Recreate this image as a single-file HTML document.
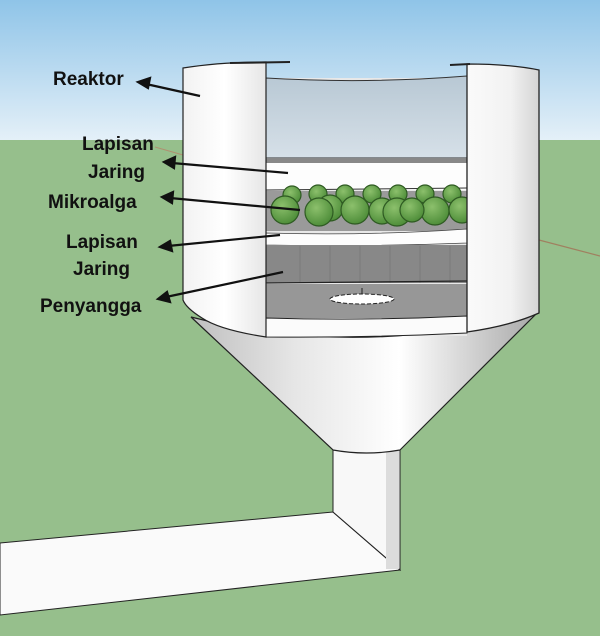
<!DOCTYPE html>
<html><head><meta charset="utf-8"><style>
html,body{margin:0;padding:0;width:600px;height:636px;overflow:hidden}
svg{display:block}
text{font-family:"Liberation Sans",sans-serif;font-weight:bold;font-size:19px;fill:#111}
</style></head><body>
<svg width="600" height="636" viewBox="0 0 600 636" xmlns="http://www.w3.org/2000/svg">
<defs>
<linearGradient id="sky" x1="0" y1="0" x2="0" y2="1"><stop offset="0" stop-color="#8fc4e8"/><stop offset="1" stop-color="#e4f0f8"/></linearGradient>
<linearGradient id="wallL" x1="0" y1="0" x2="1" y2="0"><stop offset="0" stop-color="#f2f2f2"/><stop offset="0.5" stop-color="#ffffff"/><stop offset="1" stop-color="#e6e6e6"/></linearGradient>
<linearGradient id="wallR" x1="0" y1="0" x2="1" y2="0"><stop offset="0" stop-color="#fafafa"/><stop offset="0.6" stop-color="#f2f2f2"/><stop offset="1" stop-color="#d4d4d4"/></linearGradient>
<linearGradient id="cone" x1="0" y1="0" x2="1" y2="0"><stop offset="0" stop-color="#bfbfbf"/><stop offset="0.3" stop-color="#e6e6e6"/><stop offset="0.6" stop-color="#ffffff"/><stop offset="1" stop-color="#a8a8a8"/></linearGradient>
<linearGradient id="glass" x1="0" y1="0" x2="0" y2="1"><stop offset="0" stop-color="#b8c8d4"/><stop offset="1" stop-color="#d6e0e8"/></linearGradient>
<radialGradient id="ball" cx="0.4" cy="0.35" r="0.7"><stop offset="0" stop-color="#8cc06c"/><stop offset="1" stop-color="#4a8a36"/></radialGradient>
</defs>
<rect width="600" height="140" fill="url(#sky)"/>
<rect y="140" width="600" height="496" fill="#96bf8c"/>
<line x1="155" y1="147" x2="183" y2="155" stroke="#b09070" stroke-width="1"/>
<line x1="539" y1="240" x2="600" y2="256" stroke="#a08060" stroke-width="1.2"/>
<!-- horizontal pipe -->
<polygon points="0,543 333,512 400,570 0,615" fill="#fafafa" stroke="#222" stroke-width="1"/>
<line x1="333" y1="512" x2="400" y2="570" stroke="#444" stroke-width="1"/>
<!-- vertical pipe -->
<polygon points="333,450 400,450 400,570 333,512" fill="#f8f8f8" stroke="#222" stroke-width="1"/>
<rect x="386" y="451" width="13" height="118" fill="#dcdcdc"/>
<!-- cone -->
<path d="M191,317 Q360,360 538,312 L400,450 Q366,456 333,450 Z" fill="url(#cone)" stroke="#222" stroke-width="1.2"/>
<!-- interior -->
<rect x="266" y="78" width="201" height="258" fill="#e8e8e8"/>
<path d="M266,78 Q366,84 467,76 L467,158 L266,158 Z" fill="url(#glass)" stroke="#333" stroke-width="1"/>
<rect x="266" y="158" width="201" height="5" fill="#888"/>
<rect x="266" y="163" width="201" height="27" fill="#fdfdfd"/>
<line x1="266" y1="190" x2="467" y2="188" stroke="#333"/>
<rect x="266" y="191" width="201" height="40" fill="#9a9a9a"/>
<g fill="url(#ball)" stroke="#2e5a22" stroke-width="1.2">
<circle cx="292" cy="195" r="9"/><circle cx="318" cy="194" r="9"/><circle cx="345" cy="194" r="9"/><circle cx="372" cy="194" r="9"/><circle cx="398" cy="194" r="9"/><circle cx="425" cy="194" r="9"/><circle cx="452" cy="194" r="9"/>
<circle cx="285" cy="210" r="14"/><circle cx="330" cy="208" r="13"/><circle cx="319" cy="212" r="14"/><circle cx="355" cy="210" r="14"/><circle cx="382" cy="211" r="13"/><circle cx="397" cy="212" r="14"/><circle cx="435" cy="211" r="14"/><circle cx="462" cy="210" r="13"/><circle cx="412" cy="210" r="12"/>
</g>
<path d="M266,233 Q366,236 467,229 L467,243 Q366,247 266,245 Z" fill="#fdfdfd" stroke="#444" stroke-width="0.8"/>
<rect x="266" y="245" width="201" height="38" fill="#888"/>
<g stroke="#7a7a7a" stroke-width="1"><line x1="300" y1="246" x2="300" y2="283"/><line x1="330" y1="246" x2="330" y2="283"/><line x1="360" y1="246" x2="360" y2="283"/><line x1="390" y1="246" x2="390" y2="283"/><line x1="420" y1="246" x2="420" y2="283"/><line x1="450" y1="246" x2="450" y2="283"/></g>
<line x1="266" y1="283" x2="467" y2="281" stroke="#222" stroke-width="1.2"/>
<rect x="266" y="284" width="201" height="34" fill="#979797"/>
<line x1="362" y1="288" x2="362" y2="296" stroke="#222"/>
<ellipse cx="362" cy="299" rx="32" ry="5" fill="#fff" stroke="#222" stroke-dasharray="4 2"/>
<path d="M266,318 Q366,321 467,316 L467,333 Q366,338 266,337 Z" fill="#fbfbfb" stroke="#222" stroke-width="1"/>
<!-- left wall -->
<path d="M183,68 Q220,62 266,62 L266,337 Q220,330 202,318 Q186,308 183,300 Z" fill="url(#wallL)" stroke="#222" stroke-width="1.2"/>
<path d="M230,63 L290,62" stroke="#222" stroke-width="2"/>
<!-- right wall -->
<path d="M467,64 Q510,64 539,70 L539,313 Q510,326 467,332 Z" fill="url(#wallR)" stroke="#222" stroke-width="1.3"/>
<path d="M450,65 L470,64" stroke="#222" stroke-width="2"/>
<!-- labels -->
<text x="53" y="85">Reaktor</text>
<text x="82" y="150">Lapisan</text>
<text x="88" y="178">Jaring</text>
<text x="48" y="208">Mikroalga</text>
<text x="66" y="248">Lapisan</text>
<text x="73" y="275">Jaring</text>
<text x="40" y="312">Penyangga</text>
<g stroke="#111" stroke-width="2.2" fill="#111">
<line x1="146" y1="84" x2="200" y2="96"/><polygon points="138,82 150,78 148,88"/>
<line x1="172" y1="163" x2="288" y2="173"/><polygon points="164,162 175,157 174,168"/>
<line x1="170" y1="198" x2="300" y2="210"/><polygon points="162,197 173,192 172,203"/>
<line x1="168" y1="246" x2="280" y2="235"/><polygon points="160,247 170,241 172,251"/>
<line x1="166" y1="297" x2="283" y2="272"/><polygon points="158,299 167,292 170,302"/>
</g>
</svg>
</body></html>
